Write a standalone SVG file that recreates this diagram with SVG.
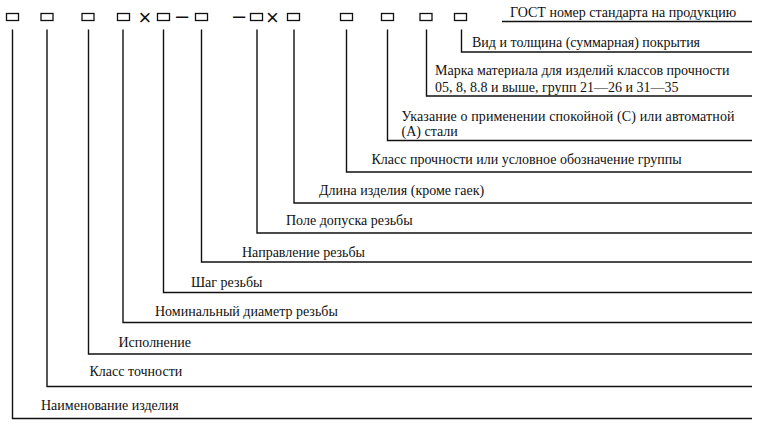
<svg xmlns="http://www.w3.org/2000/svg" width="762" height="426" viewBox="0 0 762 426">
<style>
.bg{fill:#fff}
.box{fill:none;stroke:#111;stroke-width:1.3}
.sym{font-family:"Liberation Sans",Arial,sans-serif;font-size:22px;fill:#111;text-anchor:middle}
.lbl{font-family:"Liberation Serif","Times New Roman",serif;font-size:14px;fill:#111}
.con{fill:none;stroke:#111;stroke-width:1.4}
</style>
<rect class="bg" x="0" y="0" width="762" height="426"/>
<g id="designation">
  <rect id="b1" class="box" x="6.5" y="13.5" width="12" height="7"/>
  <rect id="b2" class="box" x="41" y="13.5" width="12" height="7"/>
  <rect id="b3" class="box" x="82" y="13.5" width="12" height="7"/>
  <rect id="b4" class="box" x="117.5" y="13.5" width="12" height="7"/>
  <text class="sym" x="145" y="24.5">×</text>
  <rect id="b5" class="box" x="157.5" y="13.5" width="12" height="7"/>
  <text class="sym" x="182" y="22.8">–</text>
  <rect id="b6" class="box" x="195.5" y="13.5" width="12" height="7"/>
  <text class="sym" x="239" y="22.8">–</text>
  <rect id="b7" class="box" x="250.5" y="13.5" width="12" height="7"/>
  <text class="sym" x="272.5" y="24.5">×</text>
  <rect id="b8" class="box" x="287.5" y="13.5" width="12" height="7"/>
  <rect id="b9" class="box" x="340.5" y="13.5" width="12" height="7"/>
  <rect id="b10" class="box" x="381.5" y="13.5" width="12" height="7"/>
  <rect id="b11" class="box" x="420" y="13.5" width="12" height="7"/>
  <rect id="b12" class="box" x="454.5" y="13.5" width="12" height="7"/>
</g>
<g id="connectors">
  <polyline class="con" points="502,21.5 752,21.5"/>
  <polyline class="con" points="461.5,29.5 461.5,52 752,52"/>
  <polyline class="con" points="426.5,29.5 426.5,96 752,96"/>
  <polyline class="con" points="387.5,29.5 387.5,140.5 752,140.5"/>
  <polyline class="con" points="346.5,29.5 346.5,172 752,172"/>
  <polyline class="con" points="294,29.5 294,203 752,203"/>
  <polyline class="con" points="257,29.5 257,233 752,233"/>
  <polyline class="con" points="201.5,29.5 201.5,262 752,262"/>
  <polyline class="con" points="163.5,29.5 163.5,292.5 752,292.5"/>
  <polyline class="con" points="123,29.5 123,322.5 752,322.5"/>
  <polyline class="con" points="88.5,29.5 88.5,354 752,354"/>
  <polyline class="con" points="47,29.5 47,386.5 752,386.5"/>
  <polyline class="con" points="12.5,29.5 12.5,418.5 752,418.5"/>
</g>
<g id="n-gost"><text class="lbl" x="510" y="17">ГОСТ номер стандарта на продукцию</text></g>
<g id="n-coating"><text class="lbl" x="472" y="47">Вид и толщина (суммарная) покрытия</text></g>
<g id="n-material"><text class="lbl" x="435" y="75">Марка материала для изделий классов прочности</text><text class="lbl" x="435" y="91.5">05, 8, 8.8 и выше, групп 21—26 и 31—35</text></g>
<g id="n-steel"><text class="lbl" x="401.5" y="121" textLength="333" lengthAdjust="spacing">Указание о применении спокойной (С) или автоматной</text><text class="lbl" x="401.5" y="136">(А) стали</text></g>
<g id="n-class"><text class="lbl" x="371.5" y="164">Класс прочности или условное обозначение группы</text></g>
<g id="n-length"><text class="lbl" x="319" y="194.5">Длина изделия (кроме гаек)</text></g>
<g id="n-tolerance"><text class="lbl" x="286" y="225">Поле допуска резьбы</text></g>
<g id="n-direction"><text class="lbl" x="242" y="256.5">Направление резьбы</text></g>
<g id="n-pitch"><text class="lbl" x="191" y="287">Шаг резьбы</text></g>
<g id="n-diameter"><text class="lbl" x="155" y="315.5">Номинальный диаметр резьбы</text></g>
<g id="n-version"><text class="lbl" x="118.5" y="347">Исполнение</text></g>
<g id="n-accuracy"><text class="lbl" x="89.5" y="376">Класс точности</text></g>
<g id="n-name"><text class="lbl" x="41" y="409.5">Наименование изделия</text></g>
</svg>
